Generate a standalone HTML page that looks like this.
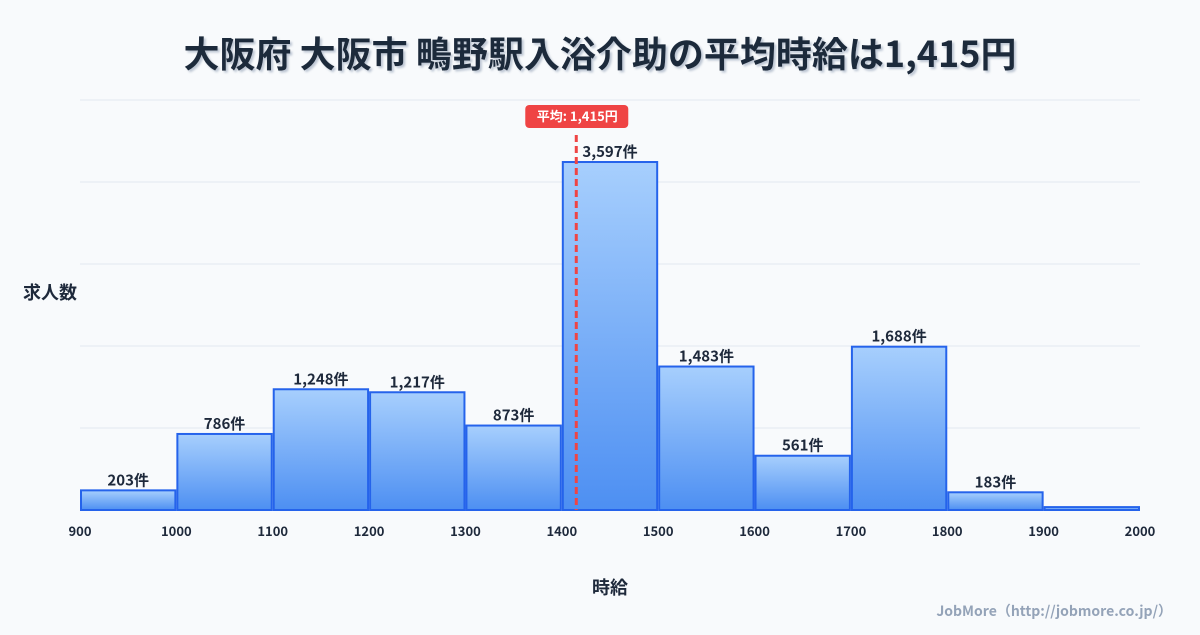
<!DOCTYPE html>
<html><head><meta charset="utf-8"><style>
body{margin:0;width:1200px;height:630px;background:#f8fafc;overflow:hidden;font-family:"Noto Sans CJK JP","Liberation Sans",sans-serif;}
svg text{font-family:"Noto Sans CJK JP","Liberation Sans",sans-serif;}
</style></head><body>
<svg width="1200" height="630">
<defs><linearGradient id="g" x1="0" y1="0" x2="0" y2="1"><stop offset="0" stop-color="#a7cffd"/><stop offset="1" stop-color="#4d8ff2"/></linearGradient>
<filter id="sh"><feDropShadow dx="2" dy="2" stdDeviation="1" flood-color="#94a3b8" flood-opacity="0.6"/></filter></defs>
<text x="600" y="67" text-anchor="middle" font-size="36" font-weight="bold" fill="#1e293b" filter="url(#sh)">大阪府 大阪市 鴫野駅入浴介助の平均時給は1,415円</text>
<g id="grid"></g><g id="bars"></g><g id="xt"></g>
<text x="50" y="299" text-anchor="middle" font-size="18" font-weight="bold" fill="#1e293b">求人数</text>
<text x="610" y="594" text-anchor="middle" font-size="18" font-weight="bold" fill="#1e293b">時給</text>
<text x="1172" y="616" text-anchor="end" font-size="14" font-weight="bold" fill="#94a3b8">JobMore（http://jobmore.co.jp/）</text>
<g id="mean"></g>
</svg>
<script>
const binStarts=[900,1000,1100,1200,1300,1400,1500,1600,1700,1800,1900];
const counts=[203,786,1248,1217,873,3597,1483,561,1688,183,30];
const labels=["203件","786件","1,248件","1,217件","873件","3,597件","1,483件","561件","1,688件","183件",""];
const xTicks=[900,1000,1100,1200,1300,1400,1500,1600,1700,1800,1900,2000];
const meanValue=1415;
const meanLabel="平均: 1,415円";
const NS="http://www.w3.org/2000/svg";
const X0=80,X1=1140,XMIN=900,XMAX=2000,Y0=510,YTOP=100,YMAX=4238;
const xs=v=>X0+(v-XMIN)/(XMAX-XMIN)*(X1-X0);
const ys=v=>Y0-v/YMAX*(Y0-YTOP);
function mk(t,a,p){const e=document.createElementNS(NS,t);for(const k in a)e.setAttribute(k,a[k]);p.appendChild(e);return e;}
const grid=document.getElementById('grid');
for(let i=0;i<=5;i++){const y=Y0-i*(Y0-YTOP)/5;const l=mk('line',{x1:X0,x2:X1,y1:y,y2:y,stroke:'#e2e8f0','stroke-width':1},grid);

}
const bars=document.getElementById('bars');
binStarts.forEach((b,i)=>{const x=xs(b)+1,w=xs(b+100)-xs(b)-2,y=ys(counts[i]);
const r=mk('rect',{x:x,y:y,width:w,height:Y0-y,fill:'url(#g)',stroke:'#2563eb','stroke-width':2},bars);


if(labels[i]){const t=mk('text',{x:x+w/2,y:y-5,'text-anchor':'middle','font-size':15,'font-weight':'bold',fill:'#1e293b'},bars);t.textContent=labels[i];

}});
const xt=document.getElementById('xt');
xTicks.forEach(v=>{const t=mk('text',{x:xs(v),y:536,'text-anchor':'middle','font-size':13,'font-weight':'bold',fill:'#1e293b'},xt);t.textContent=v;

});
const m=document.getElementById('mean');const mx=xs(meanValue);
const ml=mk('line',{x1:mx,x2:mx,y1:135,y2:Y0,stroke:'#ef4444','stroke-width':3,'stroke-dasharray':'7,4'},m);


const mb=mk('rect',{x:mx-51,y:105,width:103,height:23,rx:4,fill:'#ef4444'},m);


const mt=mk('text',{x:mx+1,y:121,'text-anchor':'middle','font-size':13,'font-weight':'bold',fill:'#fff'},m);mt.textContent=meanLabel;


</script>
</body></html>
